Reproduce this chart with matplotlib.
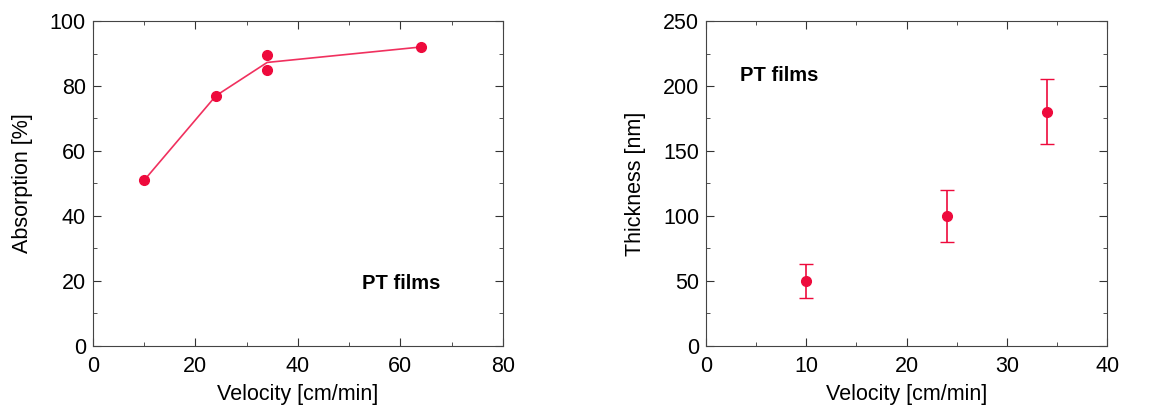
import matplotlib
matplotlib.use("Agg")
import matplotlib.pyplot as plt
import numpy as np
from matplotlib.ticker import MultipleLocator

# absorption vs velocity
abs_vel = [10, 24, 34, 34, 64]
abs_val = [51, 77, 89.5, 85, 92]
line_vel = [10, 24, 34, 64]
line_val = [51, 77, 87.25, 92]

# thickness vs velocity
th_vel = [10, 24, 34]
th_val = [50, 100, 180]
th_err = [13, 20, 25]

red = "#EE0A3C"
plt.rcParams["font.family"] = ["Liberation Sans", "DejaVu Sans"]


def style(ax, xmaj, ymaj):
    ax.xaxis.set_major_locator(MultipleLocator(xmaj))
    ax.xaxis.set_minor_locator(MultipleLocator(xmaj / 2))
    ax.yaxis.set_major_locator(MultipleLocator(ymaj))
    ax.yaxis.set_minor_locator(MultipleLocator(ymaj / 2))
    ax.tick_params(which="both", direction="in", top=True, right=True,
                   labelsize=15.5, color="#333333")
    ax.tick_params(which="major", length=6)
    ax.tick_params(which="minor", length=3)
    ax.tick_params(axis="x", pad=7)
    ax.tick_params(axis="y", pad=5)
    for s in ax.spines.values():
        s.set_color("#444444")


fig = plt.figure(figsize=(11.75, 4.07), dpi=100)

ax1 = fig.add_axes([0.0791, 0.1499, 0.3489, 0.7985])
ax1.plot(line_vel, line_val, color="#F0305E", lw=1.2)
ax1.plot(abs_vel, abs_val, "o", color=red, ms=7)
ax1.set_xlim(0, 80)
ax1.set_ylim(0, 100)
style(ax1, 20, 20)
ax1.set_xlabel("Velocity [cm/min]", fontsize=15.5, labelpad=5)
ax1.set_ylabel("Absorption [%]", fontsize=15.5, labelpad=12)
ax1.text(52.5, 17.5, "PT films", fontsize=14.5, fontweight="bold")

ax2 = fig.add_axes([0.6009, 0.1499, 0.3413, 0.7985])
ax2.errorbar(th_vel, th_val, yerr=th_err, fmt="o", color=red, ms=7,
             capsize=5, elinewidth=1.2, capthick=1)
ax2.set_xlim(0, 40)
ax2.set_ylim(0, 250)
style(ax2, 10, 50)
ax2.set_xlabel("Velocity [cm/min]", fontsize=15.5, labelpad=5)
ax2.set_ylabel("Thickness [nm]", fontsize=15.5, labelpad=12)
ax2.text(3.4, 204, "PT films", fontsize=14.5, fontweight="bold")

fig.savefig("out.png", dpi=100)
